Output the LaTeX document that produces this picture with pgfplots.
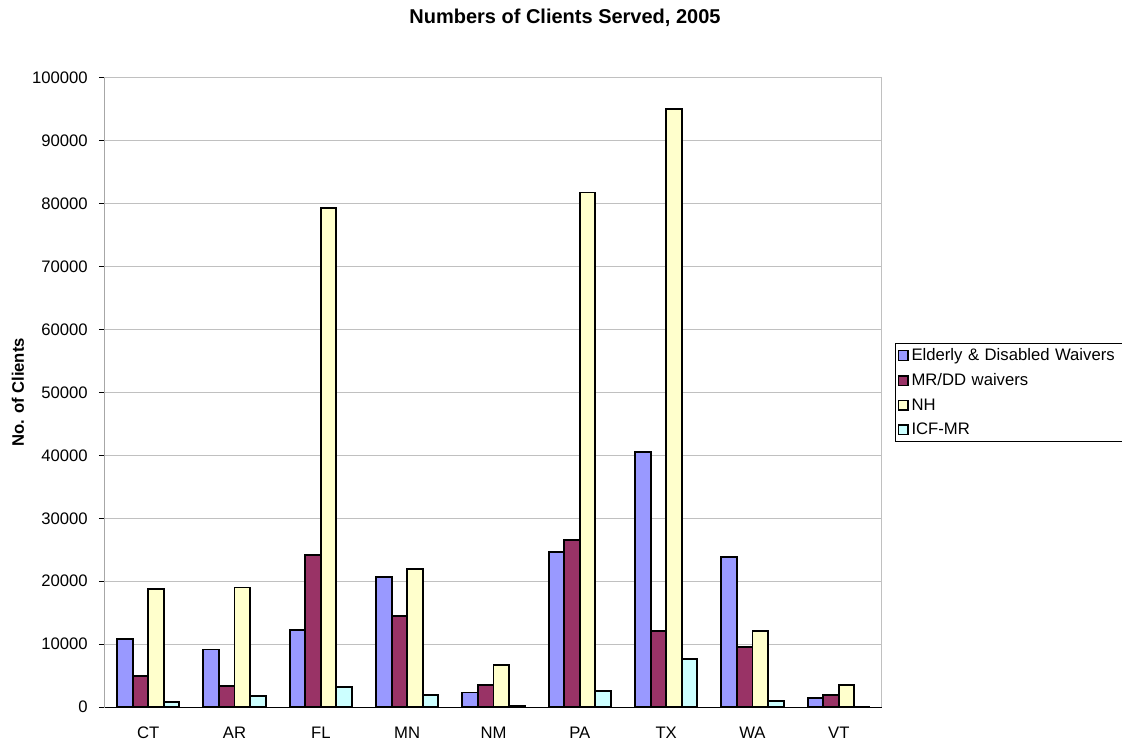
\documentclass[border=0pt]{standalone}
\usepackage{pgfplots}
\pgfplotsset{compat=1.18}
\usepackage{fontspec}
\setmainfont{Liberation Sans}
\definecolor{cA}{HTML}{9999FF}
\definecolor{cB}{HTML}{993366}
\definecolor{cC}{HTML}{FFFFCC}
\definecolor{cD}{HTML}{CCFFFF}
\definecolor{gridc}{HTML}{C0C0C0}
\begin{document}
\begin{tikzpicture}
\begin{axis}[
  at={(0,0)}, anchor=south west,
  scale only axis,
  width=582.75pt, height=471.75pt,
  xmin=-0.5, xmax=8.5,
  ymin=0, ymax=100000,
  xtick={0,...,8},
  xticklabels={CT,AR,FL,MN,NM,PA,TX,WA,VT},
  xtick pos=bottom, ytick pos=left,
  major x tick style={draw=none},
  extra x ticks={-0.5,0.5,...,8.5},
  extra x tick labels={},
  extra x tick style={tick style={draw=black, line width=0.75pt}, major tick length=4.5pt},
  ytick={0,10000,...,100000},
  scaled y ticks=false,
  yticklabel style={/pgf/number format/fixed, /pgf/number format/1000 sep={}, /pgf/number format/assume math mode=true},
  tick align=outside,
  major tick length=4.5pt,
  tick style={black, line width=0.75pt},
  ymajorgrids,
  grid style={gridc, line width=0.75pt},
  axis line style={gridc, line width=0.75pt},
  tick label style={font=\fontsize{12.5}{14}\selectfont},
  xticklabel style={yshift=-7pt},
  yticklabel style={xshift=-5pt},
  ybar, bar width=0.18,
  title={Numbers of Clients Served, 2005},
  title style={font=\bfseries\fontsize{15}{18}\selectfont, at={(axis description cs:0.592,1)}, anchor=center, yshift=39pt},
  ylabel={No. of Clients},
  ylabel style={font=\bfseries\fontsize{12.5}{14}\selectfont, at={(axis description cs:-0.112,0.5)}, anchor=center},
  legend style={at={(axis description cs:1.0163,0.5792)}, anchor=north west, draw=black, line width=0.75pt,
    font=\fontsize{12.5}{14}\selectfont, cells={anchor=west}, row sep=4.2pt, inner xsep=2pt, inner ysep=2pt,
    text width=156pt},
  legend image code/.code={\draw[#1, draw=black, line width=1.1pt] (0pt,-3.6pt) rectangle (7.2pt,3.6pt);},
]
\addplot[fill=cA, draw=black, line width=1.4pt, bar shift=-0.27] coordinates {(0,10800) (1,9150) (2,12300) (3,20700) (4,2300) (5,24600) (6,40600) (7,23800) (8,1450)};
\addplot[fill=cB, draw=black, line width=1.4pt, bar shift=-0.09] coordinates {(0,4900) (1,3400) (2,24100) (3,14400) (4,3500) (5,26500) (6,12100) (7,9500) (8,1900)};
\addplot[fill=cC, draw=black, line width=1.4pt, bar shift=0.09] coordinates {(0,18700) (1,19000) (2,79300) (3,21900) (4,6650) (5,81800) (6,95100) (7,12050) (8,3500)};
\addplot[fill=cD, draw=black, line width=1.4pt, bar shift=0.27] coordinates {(0,850) (1,1700) (2,3200) (3,1870) (4,200) (5,2550) (6,7650) (7,950) (8,0)};
\legend{Elderly \& Disabled Waivers, MR/DD waivers, NH, ICF-MR}
\draw[black, line width=0.75pt] (rel axis cs:0,1) -- (rel axis cs:0,0) -- (rel axis cs:1,0);
\end{axis}
\pgfresetboundingbox
\path (-78.75pt,-27.75pt) rectangle (762.75pt,530.25pt);
\end{tikzpicture}
\end{document}
